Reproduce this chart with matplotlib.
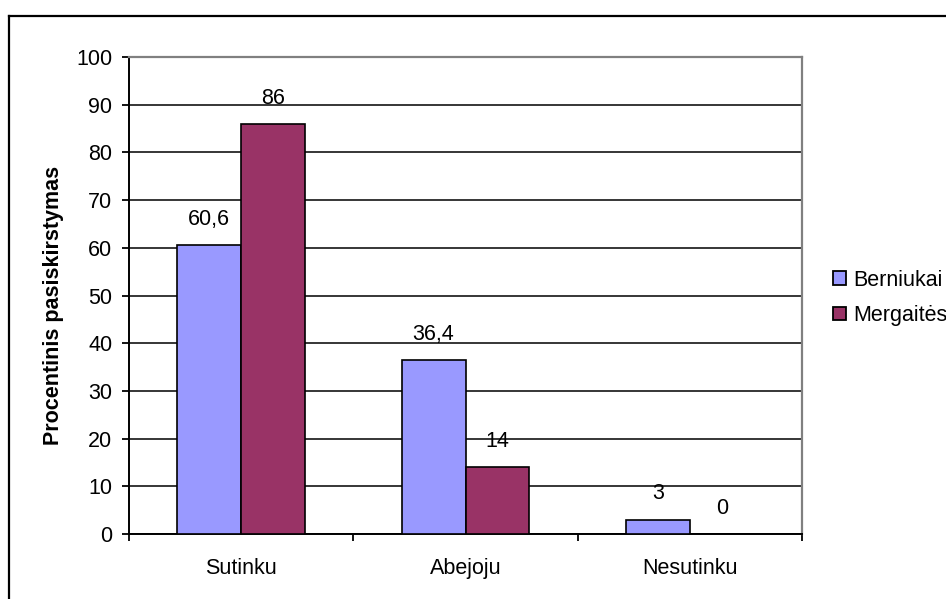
import matplotlib
matplotlib.use("Agg")
import matplotlib.pyplot as plt
from matplotlib.lines import Line2D
import numpy as np

plt.rcParams['font.family'] = ['Liberation Sans', 'DejaVu Sans']

categories = ["Sutinku", "Abejoju", "Nesutinku"]
series_names = ["Berniukai", "Mergaitės"]
berniukai = [60.6, 36.4, 3]
mergaites = [86, 14, 0]
value_labels_b = ["60,6", "36,4", "3"]
value_labels_m = ["86", "14", "0"]
y_ticks = list(range(0, 101, 10))

colors = ["#9999FF", "#993366"]
W, H = 946, 599
fig = plt.figure(figsize=(W / 100, H / 100), dpi=100)
ax = fig.add_axes([129 / W, 1 - 534 / H, (802 - 129) / W, (534 - 57) / H])

x = np.arange(len(categories))
bw = 0.285
fs = 15.5

for vals, labels, off, col, name in [
    (berniukai, value_labels_b, -bw / 2, colors[0], series_names[0]),
    (mergaites, value_labels_m, bw / 2, colors[1], series_names[1]),
]:
    ax.bar(x + off, vals, width=bw, color=col, edgecolor="black",
           linewidth=1.2, label=name, zorder=3)
    for xi, v, t in zip(x + off, vals, labels):
        ax.annotate(t, (xi, v), xytext=(0, 18.5), textcoords="offset points",
                    ha="center", va="center", fontsize=fs, zorder=4)

ax.set_xlim(-0.5, len(categories) - 0.5)
ax.set_ylim(0, 100)
ax.set_yticks(y_ticks)
ax.yaxis.grid(True, color="black", linewidth=1.1, zorder=0)
ax.set_axisbelow(True)

# category boundaries carry the ticks, names sit at the centres
ax.set_xticks(np.arange(-0.5, len(categories), 1.0))
ax.set_xticklabels([])
ax.set_xticks(x, minor=True)
ax.set_xticklabels(categories, minor=True, fontsize=fs)
ax.tick_params(axis="x", which="major", direction="out", length=5, width=1.3)
ax.tick_params(axis="x", which="minor", length=0, pad=17)
ax.tick_params(axis="y", direction="out", length=5, width=1.3, labelsize=fs, pad=7)

for s in ["left", "bottom"]:
    ax.spines[s].set_color("black")
    ax.spines[s].set_linewidth(1.4)
for s in ["top", "right"]:
    ax.spines[s].set_color("#808080")
    ax.spines[s].set_linewidth(1.6)

ax.set_ylabel("Procentinis pasiskirstymas", fontsize=fs, fontweight="bold")
ax.yaxis.set_label_coords(-0.097, 0.48)

leg = ax.legend(loc="center left", bbox_to_anchor=(1.033, 0.495), frameon=False,
                fontsize=fs, handlelength=0.6, handleheight=0.6,
                handletextpad=0.35, labelspacing=0.67, borderaxespad=0)
for h in leg.legend_handles:
    h.set_edgecolor("black")
    h.set_linewidth(1.3)

# outer chart border
fig.add_artist(Line2D([9 / W, 9 / W], [0, 1 - 16 / H], color="black",
                      linewidth=1.6, transform=fig.transFigure))
fig.add_artist(Line2D([9 / W, 1], [1 - 16 / H, 1 - 16 / H], color="black",
                      linewidth=1.6, transform=fig.transFigure))

fig.savefig("out.png", dpi=100)
